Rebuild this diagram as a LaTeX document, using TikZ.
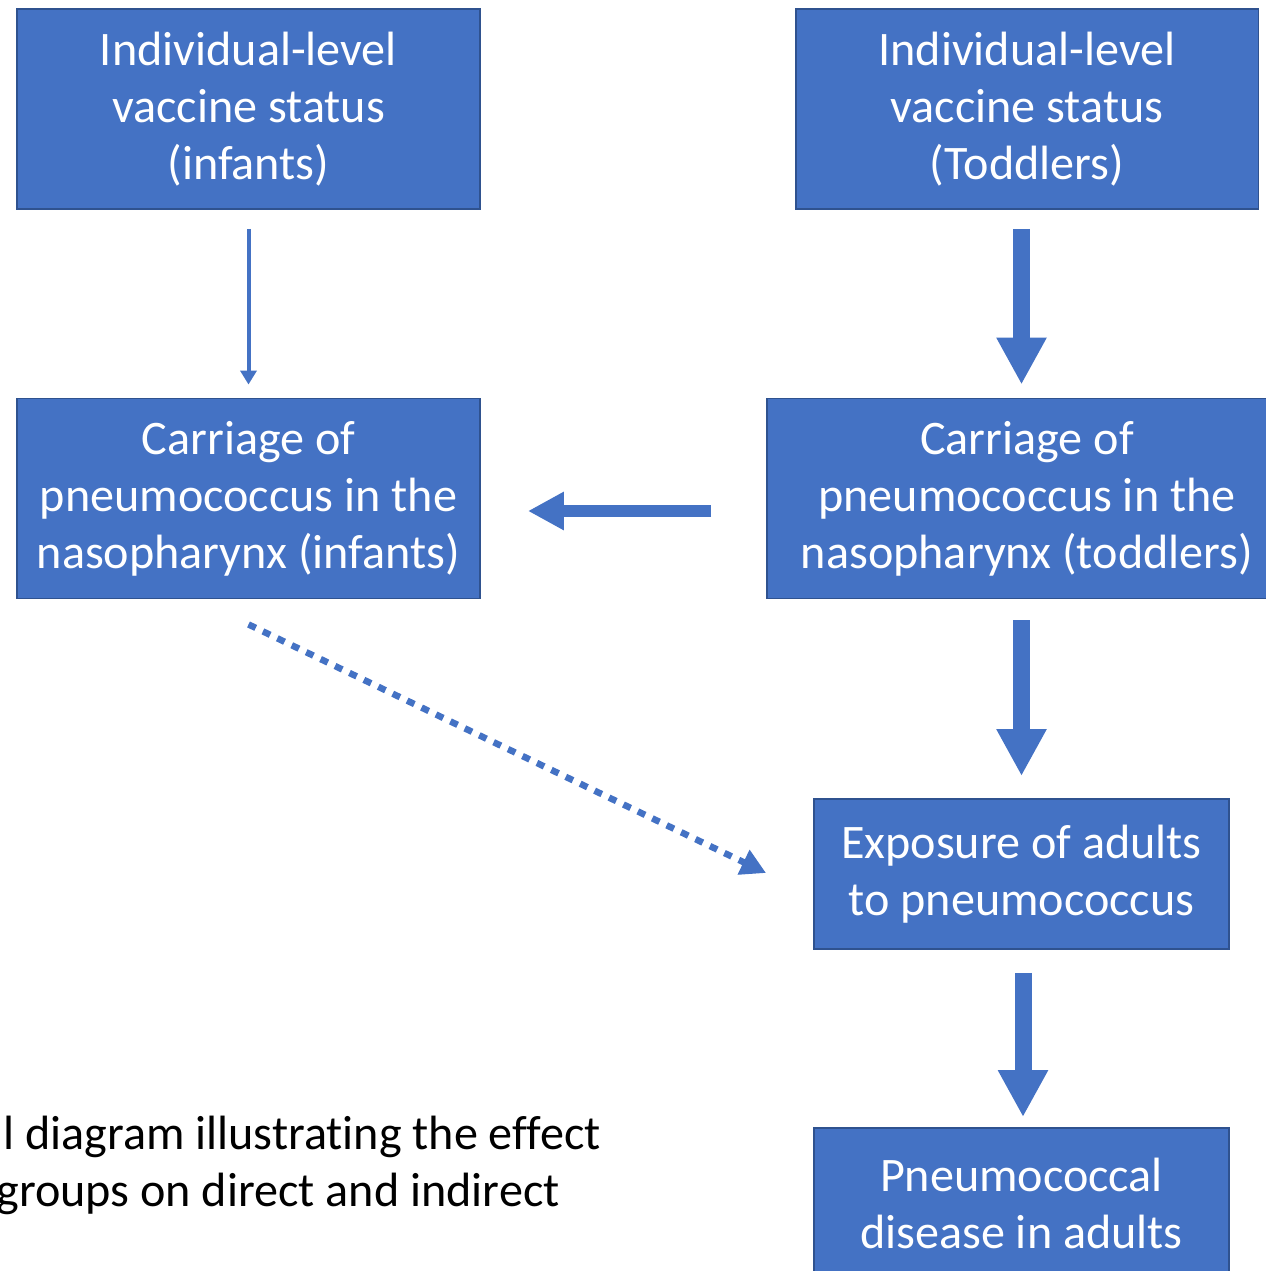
\documentclass[tikz,border=0pt]{standalone}
\usepackage{fontspec}
\setmainfont[Ligatures=NoCommon]{Carlito}
\usepackage{tikz}
\usetikzlibrary{arrows.meta,positioning,calc}
\definecolor{boxblue}{HTML}{4472C4}
\definecolor{boxedge}{HTML}{2F528F}

\begin{document}
\begin{tikzpicture}[x=0.02cm, y=-0.02cm, font=\fontsize{27.4}{32.4}\selectfont,
   box/.style={draw=boxedge,line width=1.1pt,fill=boxblue,text=white,align=center,inner sep=0pt,minimum width=9.26cm,minimum height=4cm},
   wide/.style={box,minimum width=10.4cm},
   small/.style={box,minimum width=8.3cm,minimum height=3cm},
   thinarrow/.style={boxblue,line width=0.08cm,-{Triangle[length=0.28cm,width=0.32cm]}},
   bigarrow/.style={boxblue,line width=0.34cm,-{Triangle[length=0.94cm,width=0.94cm]}},
   midarrow/.style={boxblue,line width=0.24cm,-{Triangle[length=0.72cm,width=0.72cm]}},
   dotarrow/.style={boxblue,line width=0.13cm,dash pattern=on 0.16cm off 0.16cm,-{Triangle[length=0.5cm,width=0.52cm]}}]
  \useasboundingbox (0,0) rectangle (1266,1271);
  \clip (0,0) rectangle (1266,1271);
  \node[box] (vi) at (248.5,109) {Individual-level\\vaccine status\\(infants)};
  \node[box] (vt) at (1027,109) {Individual-level\\vaccine status\\(Toddlers)};
  \node[box] (ci) at (248.5,498.5) {Carriage of\\pneumococcus in the\\nasopharynx (infants)};
  \node[wide] (ct) at (1027,498.5) {Carriage of\\pneumococcus in the\\nasopharynx (toddlers)};
  \node[small] (ex) at (1021.5,874) {Exposure of adults\\to pneumococcus};
  \node[small] (pd) at (1021.5,1203) {Pneumococcal\\disease in adults};
  \node[anchor=north west,inner sep=0pt,align=left] (cap) at (3,1116) {l diagram illustrating the effect\\\hspace*{-0.14cm}groups on direct and indirect};
  \draw[thinarrow] ($(vi.south)+(0,19)$) -- ($(ci.north)+(0,-13)$);
  \draw[bigarrow] ($(vt.south -| ex)+(0,19)$) -- ($(ct.north -| ex)+(0,-13)$);
  \draw[midarrow] ($(ct.west)+(-55,12.5)$) -- ($(ci.east)+(47,12.5)$);
  \draw[bigarrow] ($(ct.south -| ex)+(0,21)$) -- ($(ex.north)+(0,-22)$);
  \draw[bigarrow] ($(ex.south)+(1.5,23)$) -- ($(pd.north)+(1.5,-10)$);
  \draw[dotarrow] ($(ci.south)+(0,25)$) -- ($(ex.west)+(-47,-1)$);
\end{tikzpicture}
\end{document}
